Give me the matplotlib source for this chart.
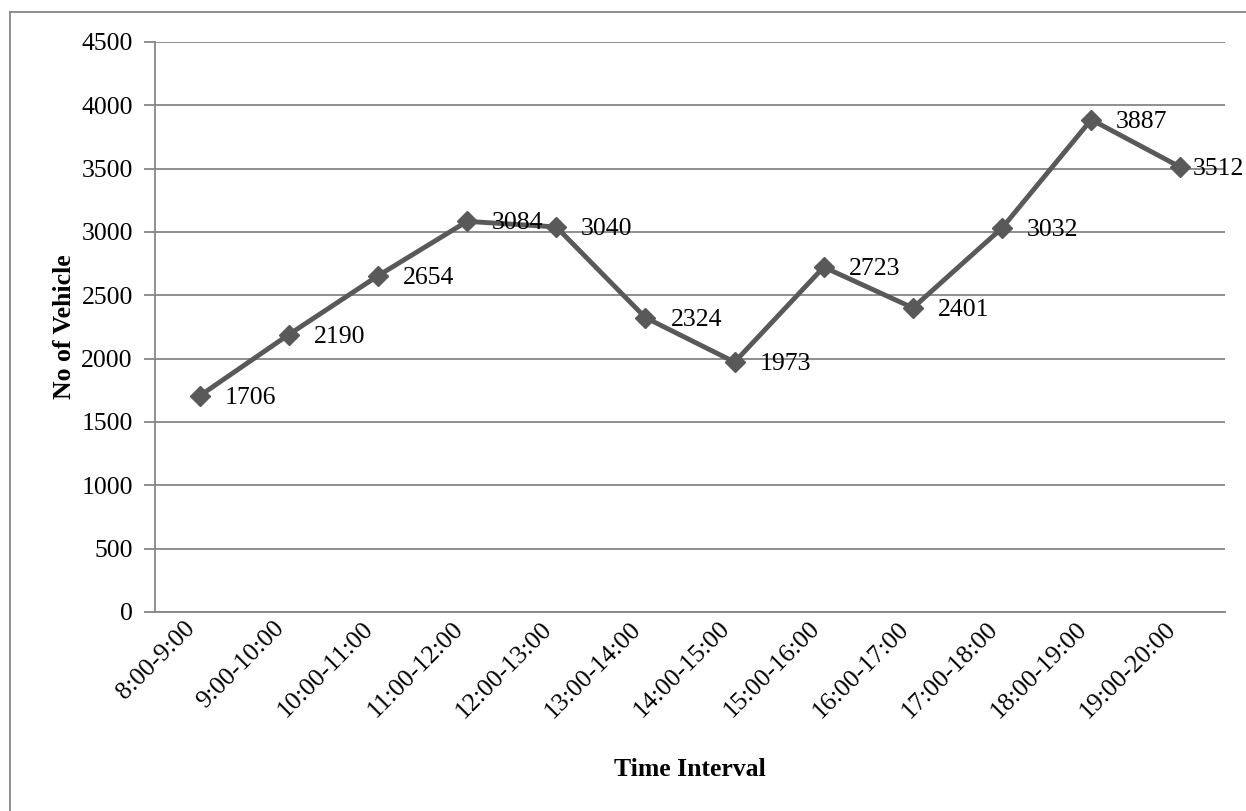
import matplotlib.pyplot as plt
from matplotlib.lines import Line2D

intervals = ["8:00-9:00", "9:00-10:00", "10:00-11:00", "11:00-12:00", "12:00-13:00",
             "13:00-14:00", "14:00-15:00", "15:00-16:00", "16:00-17:00", "17:00-18:00",
             "18:00-19:00", "19:00-20:00"]
vehicles = [1706, 2190, 2654, 3084, 3040, 2324, 1973, 2723, 2401, 3032, 3887, 3512]
yticks = list(range(0, 4501, 500))

plt.rcParams['font.family'] = ['Liberation Serif', 'DejaVu Serif']
FS = 18.5

fig = plt.figure(figsize=(12.46, 8.11), dpi=100)
ax = fig.add_axes([155 / 1246, 1 - 612 / 811, (1225 - 155) / 1246, (612 - 42) / 811])

x = list(range(len(intervals)))
ax.plot(x, vehicles, color="#595959", lw=3.5, marker="D", ms=10, zorder=3, clip_on=False)
for xi, v in zip(x, vehicles):
    # last label is nudged in so it stays inside the chart area
    dx = 9 if xi == x[-1] else 18
    ax.annotate(str(v), (xi, v), xytext=(dx, -1.5), textcoords="offset points",
                ha="left", va="center", fontsize=FS, color="black", zorder=4,
                annotation_clip=False)

ax.set_xlim(-0.5, len(intervals) - 0.5)
ax.set_ylim(0, 4500)
ax.set_yticks(yticks)
ax.set_yticklabels([str(t) for t in yticks], fontsize=FS)
ax.set_xticks(x)
ax.set_xticklabels(intervals, rotation=45, ha="right", fontsize=FS)
ax.tick_params(axis="x", length=0, pad=4)
ax.tick_params(axis="y", length=8, color="#868686", width=1.3, pad=8)
ax.yaxis.grid(True, color="#868686", lw=1.3)
ax.set_axisbelow(True)
for s in ["top", "right"]:
    ax.spines[s].set_visible(False)
for s in ["left", "bottom"]:
    ax.spines[s].set_color("#868686")
    ax.spines[s].set_linewidth(1.3)

ax.set_ylabel("No of Vehicle", fontsize=FS, fontweight="bold", labelpad=4)
ax.set_xlabel("Time Interval", fontsize=FS, fontweight="bold", labelpad=26)

# outer chart frame (right and bottom edges fall outside the image)
fx = 9.5 / 1246
fy = 1 - 12 / 811
fig.add_artist(Line2D([fx, fx], [0, fy], transform=fig.transFigure, color="#868686", lw=1.3))
fig.add_artist(Line2D([fx, 1], [fy, fy], transform=fig.transFigure, color="#868686", lw=1.3))

fig.savefig("out.png", dpi=100)
